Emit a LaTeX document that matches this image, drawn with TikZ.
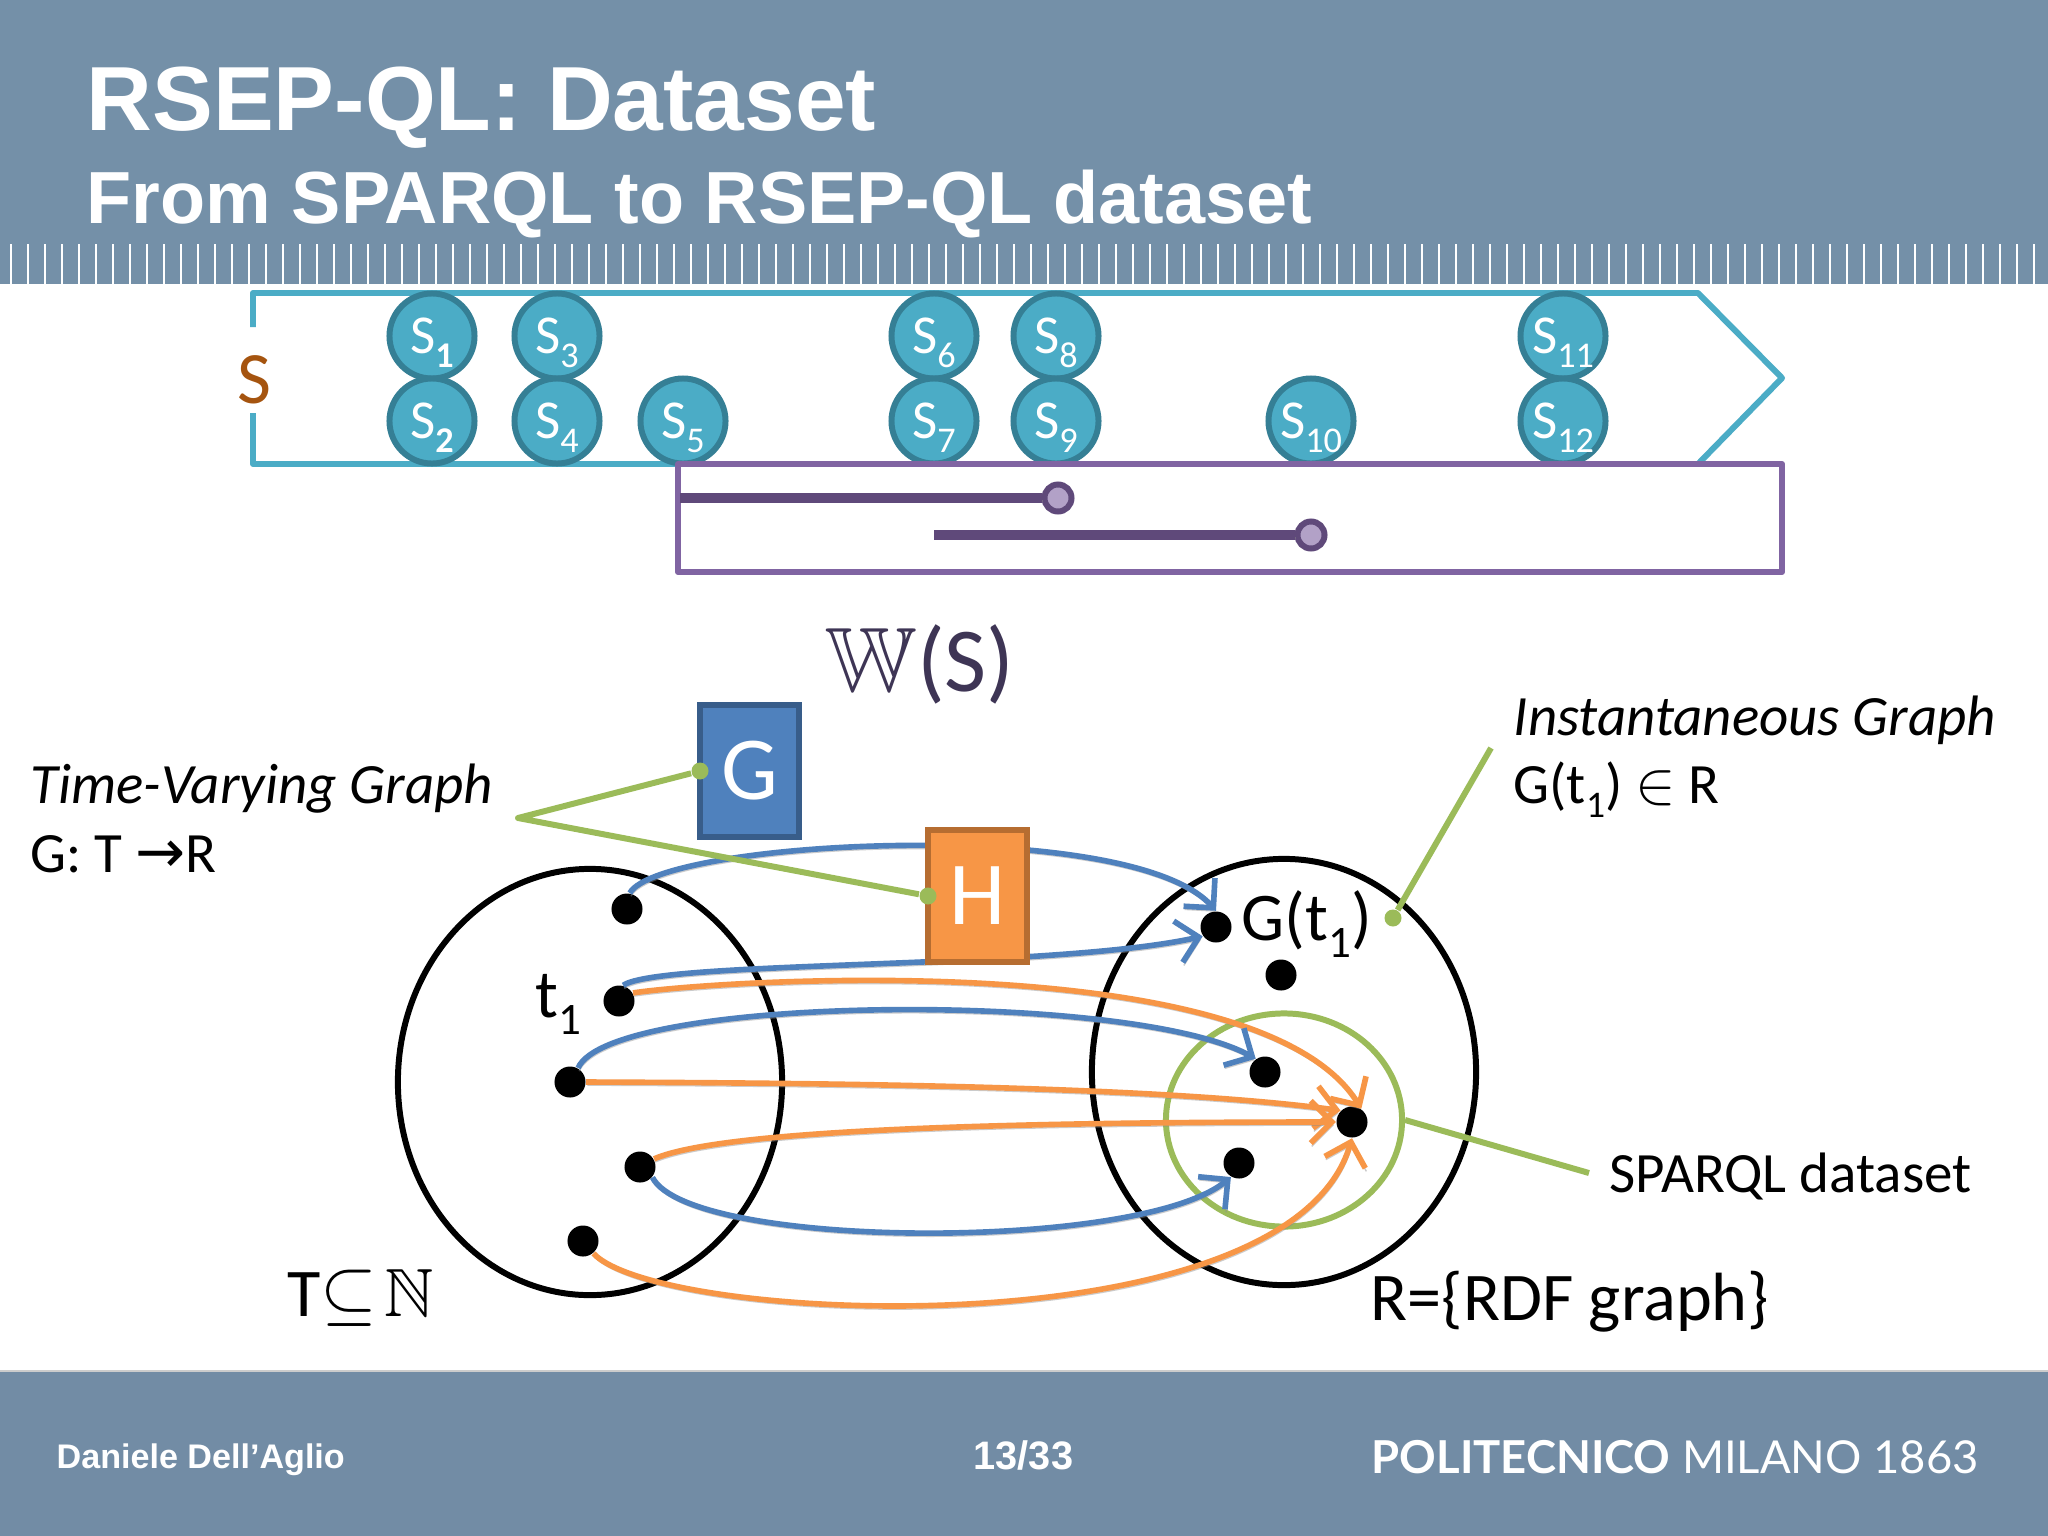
\documentclass[tikz,border=0pt]{standalone}
\usepackage{amssymb}
\usepackage{fontspec}
\setmainfont{Carlito}
\newfontfamily\headfont{Liberation Sans}
\newfontfamily\logofont{Lato}
\newfontfamily\arrowfont{DejaVu Sans}
\usetikzlibrary{arrows.meta,shapes.geometric}
\definecolor{band}{HTML}{7490A8}
\definecolor{foot}{HTML}{728CA5}
\definecolor{teal}{HTML}{4BACC6}
\definecolor{tealdark}{HTML}{357F95}
\definecolor{plum}{HTML}{8064A2}
\definecolor{plumdark}{HTML}{5F497A}
\definecolor{plumlight}{HTML}{B2A1C7}
\definecolor{ocean}{HTML}{4F81BD}
\definecolor{oceandark}{HTML}{385D8A}
\definecolor{tang}{HTML}{F79646}
\definecolor{tangdark}{HTML}{B66D31}
\definecolor{leaf}{HTML}{9BBB59}
\definecolor{rust}{HTML}{A5540F}
\definecolor{ink}{HTML}{3E3555}
\newcommand{\lowidx}[1]{\raisebox{-.25em}{\scalebox{.66}{#1}}}
\tikzset{
  softshadow/.style={preaction={draw=black!45,opacity=.45,transform canvas={xshift=.3pt,yshift=-.9pt}}},
  event/.style={circle,draw=tealdark,fill=teal,line width=1.7pt,minimum size=.85cm,inner sep=0,text=white,text height=10pt,text depth=0pt,font=\fontsize{15.6}{18}\selectfont},
  dot/.style={circle,fill=black,minimum size=.31cm,inner sep=0},
  pin/.style={circle,fill=leaf,minimum size=.17cm,inner sep=0},
  leader/.style={draw=leaf,line width=1.7pt,line join=round},
  set/.style={ellipse,draw=black,line width=1.7pt,minimum width=3.84cm,minimum height=4.26cm,inner sep=0},
  bluearc/.style={->,draw=ocean,line width=1.6pt,softshadow},
  orangearc/.style={->,draw=tang,line width=1.6pt,softshadow},
  lbl/.style={anchor=base west,inner sep=0,font=\fontsize{16.2}{18}\selectfont},
  biglbl/.style={anchor=base west,inner sep=0,font=\fontsize{19.4}{22}\selectfont},
  graphbox/.style={rectangle,line width=1.7pt,minimum width=.98cm,minimum height=1.31cm,inner sep=0,text=white,font=\fontsize{25.6}{28}\selectfont},
  endmark/.style={circle,draw=plumdark,fill=plumlight,line width=1.7pt,minimum size=.27cm,inner sep=0},
  span/.style={draw=plumdark,line width=2.8pt,softshadow}
}
\begin{document}
\begin{tikzpicture}[x=.01cm,y=-.01cm,>={Straight Barb[length=6pt,width=12pt]}]
\useasboundingbox (0,0) rectangle (2048,1536);
\fill[white] (0,0) rectangle (2048,1536);

% title band
\fill[band] (0,0) rectangle (2048,284);
\foreach \i in {0,...,119}
  \fill[white] (9.5+17*\i,244) rectangle (11.5+17*\i,284);
\node[anchor=base west,inner sep=0,text=white,font=\headfont\bfseries\fontsize{25.9}{28}\selectfont] (title) at (86,130) {RSEP-QL: Dataset};
\node[anchor=base west,inner sep=0,text=white,font=\headfont\bfseries\fontsize{21}{24}\selectfont] (subtitle) at (86,223) {From SPARQL to RSEP-QL dataset};

% stream
\draw[draw=teal,line width=1.7pt,line join=round] (253,327)--(253,293)--(1698,293)--(1782,378)--(1698,464)--(253,464)--(253,413);
\node[inner sep=0,text=rust,font=\fontsize{21}{24}\selectfont] (stream) at (254,380) {S};
\node[event] (s1) at (432,336) {S\lowidx{\textbf{1}}};
\node[event] (s3) at (557,336) {S\lowidx{3}};
\node[event] (s6) at (934,336) {S\lowidx{6}};
\node[event] (s8) at (1056,336) {S\lowidx{8}};
\node[event] (s11) at (1563,336) {S\lowidx{11}};
\node[event] (s2) at (432,421) {S\lowidx{\textbf{2}}};
\node[event] (s4) at (557,421) {S\lowidx{4}};
\node[event] (s5) at (683,421) {S\lowidx{5}};
\node[event] (s7) at (934,421) {S\lowidx{7}};
\node[event] (s9) at (1056,421) {S\lowidx{9}};
\node[event] (s10) at (1311,421) {S\lowidx{10}};
\node[event] (s12) at (1563,421) {S\lowidx{12}};

% window
\draw[draw=plum,line width=1.7pt,line join=round] (678,464) rectangle (1782,572);
\coordinate (w1) at (680,498);
\coordinate (w2) at (934,535);
\node[endmark] (e1) at (1058,498) {};
\node[endmark] (e2) at (1311,535) {};
\draw[span] (w1)--(e1);
\draw[span] (w2)--(e2);
\node[inner sep=0,anchor=base west,text=ink,font=\fontsize{26}{28}\selectfont] (ws) at (825,691) {$\mathbb{W}$(S)};

% sets
\node[set] (T) at (590,1082) {};
\node[set] (R) at (1284,1072) {};
\node[set,draw=leaf,minimum width=2.36cm,minimum height=2.13cm] (ds) at (1284,1120) {};
\node[dot] (t0) at (627,909) {};
\node[dot] (t1) at (619,1001) {};
\node[dot] (t2) at (570,1082) {};
\node[dot] (t3) at (640,1167) {};
\node[dot] (t4) at (583,1241) {};
\node[dot] (g0) at (1216,927) {};
\node[dot] (g1) at (1281,975) {};
\node[dot] (g2) at (1265,1072) {};
\node[dot] (g3) at (1352,1122) {};
\node[dot] (g4) at (1239,1163) {};

% mappings
\draw[bluearc] (t0.80) .. controls (660,840) and (1130,815) .. (g0.90);
\draw[bluearc] (t1.75) .. controls (660,960) and (1050,970) .. (g0.215);
\draw[orangearc] (t1.30) .. controls (720,980) and (1260,945) .. (g3.55);
\draw[bluearc] (t2.60) .. controls (610,995) and (1130,990) .. (g2.125);
\draw[orangearc] (t2.0) .. controls (800,1083) and (1150,1085) .. (g3.135);
\draw[orangearc] (t3.30) .. controls (720,1130) and (1000,1122) .. (g3.180);
\draw[bluearc] (t3.-40) .. controls (690,1250) and (1140,1252) .. (g4.240);
\draw[orangearc] (t4.-50) .. controls (660,1325) and (1290,1352) .. (g3.270);

\node[graphbox,draw=oceandark,fill=ocean] (G) at (749.5,771) {G};
\node[graphbox,draw=tangdark,fill=tang] (H) at (977.5,896) {H};

% callouts
\coordinate (apex) at (518,818);
\node[pin] (gpin) at (700,771) {};
\node[pin] (hpin) at (928,896) {};
\draw[leader] (gpin)--(apex)--(hpin);
\coordinate (itip) at (1491,748);
\node[pin] (ipin) at (1393,918) {};
\draw[leader] (ipin)--(itip);
\coordinate (dtip) at (1589,1173);
\draw[leader] (ds.east)--(dtip);

\node[lbl] (tvg) at (30,803) {\textit{Time-Varying Graph}};
\node[lbl] (sig) at (30,872) {G: T {\arrowfont\scalebox{1.05}{→}}R};
\node[lbl] (ig) at (1513,735) {\textit{Instantaneous Graph}};
\node[lbl] (ign) at (1513,803) {G(t\lowidx{1}) $\in$ R};
\node[lbl] (sd) at (1609,1192) {SPARQL dataset};
\node[biglbl] (rset) at (1370,1320) {R=\{RDF graph\}};
\node[biglbl] (gt) at (1241,940) {G(t\lowidx{1})};
\node[biglbl] (tone) at (535,1017) {t\lowidx{1}};
\node[biglbl] (tset) at (287,1316) {T$\subseteq$\hspace{2pt}$\mathbb{N}$};

% footer
\fill[foot] (0,1371) rectangle (2048,1536);
\draw[black!20,line width=.5pt] (0,1371)--(2048,1371);
\node[anchor=base west,inner sep=0,text=white,font=\headfont\bfseries\fontsize{9.7}{11}\selectfont] (author) at (56,1468) {Daniele Dell’Aglio};
\node[anchor=base west,inner sep=0,text=white,font=\headfont\bfseries\fontsize{11.3}{13}\selectfont] (page) at (973,1469) {13/33};
\node[anchor=base west,inner sep=0,text=white,font=\logofont\fontsize{12.9}{15}\selectfont] (logo) at (1371,1473) {\textbf{POLITECNICO} MILANO 1863};
\end{tikzpicture}
\end{document}
